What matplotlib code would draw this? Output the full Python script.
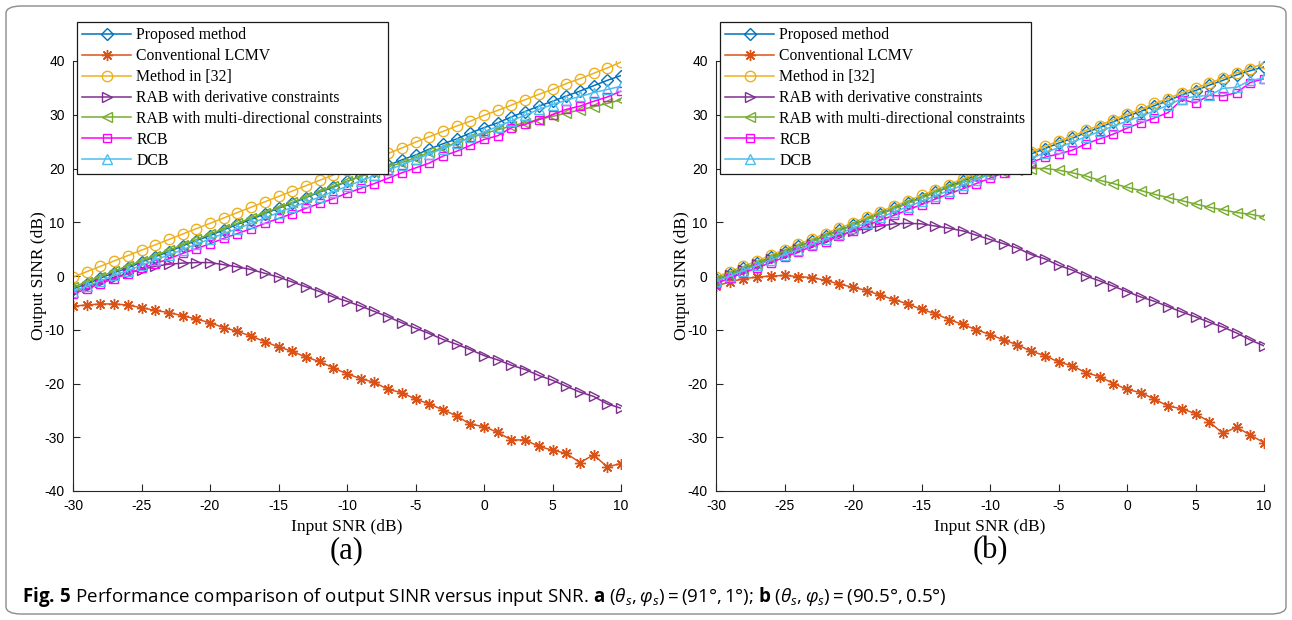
import numpy as np
import matplotlib
matplotlib.use("Agg")
import matplotlib.pyplot as plt
from matplotlib.patches import FancyBboxPatch

plt.rcParams['mathtext.fontset'] = 'custom'
plt.rcParams['mathtext.rm'] = 'Open Sans'
plt.rcParams['mathtext.it'] = 'Open Sans:italic'
plt.rcParams['mathtext.bf'] = 'Open Sans:bold'
plt.rcParams['axes.unicode_minus'] = False

snr = np.arange(-30, 11)

labels = ['Proposed method', 'Conventional LCMV', 'Method in [32]',
          'RAB with derivative constraints',
          'RAB with multi-directional constraints', 'RCB', 'DCB']

# panel (a)
proposed_a = [-2.4, -1.5, -0.4, 0.6, 1.5, 2.6, 3.6, 4.5, 5.6, 6.6, 7.5, 8.6, 9.6, 10.5,
              11.6, 12.6, 13.5, 14.6, 15.6, 16.5, 17.6, 18.6, 19.5, 20.6, 21.6, 22.5,
              23.6, 24.6, 25.5, 26.6, 27.6, 28.5, 29.6, 30.6, 31.6, 32.5, 33.5, 34.4,
              35.4, 36.4, 37.3]
lcmv_a = [-5.6, -5.4, -5.2, -5.2, -5.4, -5.9, -6.4, -6.8, -7.4, -8.0, -8.7, -9.6, -10.3,
          -11.2, -12.2, -13.2, -14.0, -15.1, -15.9, -17.1, -18.2, -19.1, -19.8, -21.1,
          -21.7, -22.9, -23.8, -24.9, -26.0, -27.6, -28.0, -29.1, -30.5, -30.5, -31.7,
          -32.4, -33.0, -34.7, -33.3, -35.5, -34.9]
ref32_a = [-0.2, 0.8, 1.8, 2.8, 3.8, 4.8, 5.8, 6.8, 7.8, 8.8, 9.8, 10.8, 11.8, 12.8, 13.8,
           14.8, 15.8, 16.8, 17.8, 18.8, 19.8, 20.8, 21.8, 22.8, 23.8, 24.9, 25.9, 26.9,
           27.9, 28.8, 29.9, 30.8, 31.8, 32.8, 33.8, 34.7, 35.8, 36.7, 37.7, 38.7, 39.8]
deriv_a = [-2.9, -2.0, -1.1, -0.3, 0.5, 1.2, 1.8, 2.2, 2.4, 2.5, 2.5, 2.1, 1.7, 1.2, 0.5,
           -0.2, -1.1, -2.0, -2.9, -3.9, -4.7, -5.6, -6.6, -7.6, -8.7, -9.7, -10.7, -11.8,
           -12.7, -13.7, -14.8, -15.6, -16.6, -17.4, -18.5, -19.4, -20.5, -21.6, -22.4,
           -23.8, -24.6]
multi_a = [-2.1, -1.1, -0.1, 0.9, 1.9, 2.8, 3.8, 4.8, 5.8, 6.8, 7.8, 8.8, 9.8, 10.8, 11.8,
           12.7, 13.7, 14.7, 15.7, 16.7, 17.6, 18.5, 19.4, 20.3, 21.1, 22.0, 23.0, 23.9,
           24.8, 25.7, 26.5, 27.2, 27.9, 28.5, 29.1, 29.7, 30.3, 30.9, 31.5, 32.1, 32.8]
rcb_a = [-3.3, -2.4, -1.4, -0.5, 0.4, 1.4, 2.3, 3.2, 4.2, 5.1, 6.0, 7.0, 7.9, 8.8, 9.8,
         10.7, 11.6, 12.6, 13.5, 14.4, 15.4, 16.3, 17.2, 18.2, 19.2, 20.1, 21.0, 22.3,
         23.2, 24.3, 25.4, 26.1, 27.6, 28.2, 29.1, 30.0, 31.0, 31.6, 32.5, 33.3, 34.4]
dcb_a = [-2.9, -1.9, -0.9, 0.1, 1.0, 2.0, 3.0, 3.9, 4.9, 5.9, 6.9, 7.9, 8.8, 9.8, 10.8,
         11.8, 12.8, 13.7, 14.7, 15.7, 16.7, 17.7, 18.7, 19.7, 20.7, 21.7, 22.7, 23.7,
         24.7, 25.8, 26.8, 27.8, 28.9, 29.9, 31.0, 31.9, 32.7, 33.4, 34.1, 34.7, 35.3]

# panel (b)
proposed_b = [-0.6, 0.4, 1.4, 2.4, 3.5, 4.5, 5.5, 6.5, 7.5, 8.5, 9.5, 10.6, 11.6, 12.6,
              13.6, 14.6, 15.6, 16.6, 17.7, 18.7, 19.7, 20.7, 21.7, 22.7, 23.7, 24.7,
              25.6, 26.7, 27.6, 28.7, 29.7, 30.6, 31.7, 32.6, 33.7, 34.5, 35.5, 36.4,
              37.4, 38.2, 38.9]
lcmv_b = [-1.9, -1.1, -0.5, -0.2, 0.0, 0.1, -0.1, -0.3, -0.8, -1.5, -2.1, -2.7, -3.6,
          -4.4, -5.2, -6.2, -7.0, -8.1, -9.0, -10.0, -10.9, -11.9, -12.8, -14.0, -14.8,
          -16.0, -16.7, -18.0, -18.7, -20.0, -21.1, -21.7, -22.9, -24.2, -24.7, -25.6,
          -27.1, -29.3, -28.1, -29.6, -31.0]
ref32_b = [-0.2, 0.8, 1.8, 2.8, 3.9, 4.9, 5.9, 6.9, 7.9, 8.9, 9.9, 11.0, 12.0, 13.0, 14.0,
           15.0, 16.0, 17.0, 18.1, 19.1, 20.1, 21.1, 22.1, 23.1, 24.1, 25.1, 26.0, 27.1,
           28.0, 29.1, 30.1, 31.0, 32.1, 33.0, 34.1, 34.9, 35.9, 36.8, 37.8, 38.6, 39.6]
deriv_b = [-0.9, 0.2, 1.2, 2.2, 3.1, 4.1, 5.0, 5.9, 6.8, 7.6, 8.3, 8.9, 9.3, 9.7, 9.8, 9.7,
           9.3, 8.9, 8.4, 7.6, 6.8, 6.0, 5.2, 4.0, 3.2, 2.0, 1.1, 0.0, -0.9, -1.9, -2.9,
           -3.9, -4.7, -5.7, -6.7, -7.6, -8.6, -9.5, -10.6, -11.9, -13.0]
multi_b = [-0.7, 0.3, 1.3, 2.3, 3.4, 4.4, 5.4, 6.4, 7.4, 8.4, 9.4, 10.5, 11.5, 12.5, 13.5,
           14.5, 15.5, 16.5, 17.4, 18.2, 18.9, 19.4, 19.8, 20.0, 20.0, 19.7, 19.2, 18.6,
           17.8, 17.2, 16.5, 15.9, 15.2, 14.6, 14.0, 13.4, 12.8, 12.3, 11.8, 11.5, 11.0]
rcb_b = [-1.4, -0.4, 0.6, 1.5, 2.5, 3.5, 4.5, 5.5, 6.4, 7.4, 8.4, 9.4, 10.4, 11.3, 12.3,
         13.3, 14.3, 15.3, 16.2, 17.2, 18.2, 19.2, 20.2, 21.1, 22.1, 22.7, 23.4, 24.6,
         25.5, 26.4, 27.5, 28.5, 29.4, 30.4, 32.8, 32.2, 33.6, 33.5, 34.1, 36.0, 36.7]
dcb_b = [-1.0, 0.0, 1.0, 2.0, 3.0, 4.0, 4.9, 5.9, 6.9, 7.9, 8.9, 9.9, 10.9, 11.9, 12.9,
         13.9, 14.9, 15.9, 16.9, 17.9, 18.9, 19.9, 20.9, 21.9, 22.9, 23.9, 24.9, 25.9,
         26.9, 27.9, 28.8, 29.7, 30.7, 31.8, 33.0, 33.4, 33.6, 34.9, 35.1, 36.4, 36.8]

colors = ['#0072BD', '#D95319', '#EDB120', '#7E2F8E', '#77AC30', '#FF00FF', '#4DBEEE']
markers = ['D', (8, 2, 0), 'o', '>', '<', 's', '^']
msizes = [6, 8, 7.5, 7.5, 7.5, 6, 7.5]

serif = 'Liberation Serif'
W, H = 1292, 620
fig = plt.figure(figsize=(W / 100, H / 100), dpi=100)

# rounded frame around the whole figure
frame = FancyBboxPatch((6 / W, 6 / H), 1 - 12 / W, 1 - 12 / H,
                       boxstyle="round,pad=0,rounding_size=0.012",
                       transform=fig.transFigure, facecolor='none',
                       edgecolor='#8c8c8c', linewidth=1.0)
fig.patches.append(frame)

panels = [
    (73, [proposed_a, lcmv_a, ref32_a, deriv_a, multi_a, rcb_a, dcb_a], '(a)', 77),
    (716, [proposed_b, lcmv_b, ref32_b, deriv_b, multi_b, rcb_b, dcb_b], '(b)', 720),
]

for left_px, series, tag, leg_px in panels:
    ax = fig.add_axes([left_px / W, 1 - 491 / H, 548 / W, 430 / H])
    handles = []
    for vals, c, m, ms, lab in zip(series, colors, markers, msizes, labels):
        h, = ax.plot(snr, vals, color=c, marker=m, markersize=ms,
                     markerfacecolor='none', markeredgecolor=c,
                     markeredgewidth=1.0, linewidth=1.1, label=lab)
        handles.append(h)
    ax.set_xlim(-30, 10)
    ax.set_ylim(-40, 40)
    ax.set_xticks(np.arange(-30, 11, 5))
    ax.set_yticks(np.arange(-40, 41, 10))
    for s in ['top', 'right']:
        ax.spines[s].set_visible(False)
    for s in ['left', 'bottom']:
        ax.spines[s].set_color('#262626')
        ax.spines[s].set_linewidth(0.8)
    ax.tick_params(direction='in', length=5, width=0.8, colors='#262626',
                   labelsize=10, pad=6)
    for t in ax.get_xticklabels() + ax.get_yticklabels():
        t.set_fontfamily('Liberation Sans')
        t.set_color('black')
    ax.set_xlabel('Input SNR (dB)', fontfamily=serif, fontsize=12.5, labelpad=4)
    ax.set_ylabel('Output SINR (dB)', fontfamily=serif, fontsize=12.5, labelpad=-2)
    ax.text(0.5, -0.105, tag, transform=ax.transAxes, ha='center', va='top',
            fontfamily=serif, fontsize=22)
    leg = ax.legend(handles=handles, loc='upper left',
                    bbox_to_anchor=(leg_px / W, 1 - 22 / H),
                    bbox_transform=fig.transFigure, borderaxespad=0,
                    prop={'family': serif, 'size': 11.3}, fancybox=False,
                    framealpha=1, edgecolor='#1a1a1a', handlelength=3.1,
                    handletextpad=0.32, labelspacing=0.31, borderpad=0.35)
    leg.get_frame().set_linewidth(0.9)

caption = (r'$\mathbf{Fig.\,5}$ Performance comparison of output SINR versus input SNR. '
           r'$\mathbf{a}$ $(\theta_s,\varphi_s)=(91°,1°)$; '
           r'$\mathbf{b}$ $(\theta_s,\varphi_s)=(90.5°,0.5°)$')
fig.text(22 / W, 1 - 597 / H, caption, ha='left', va='center',
         fontfamily='Open Sans', fontsize=13.5)

fig.savefig('out.png', dpi=100)
